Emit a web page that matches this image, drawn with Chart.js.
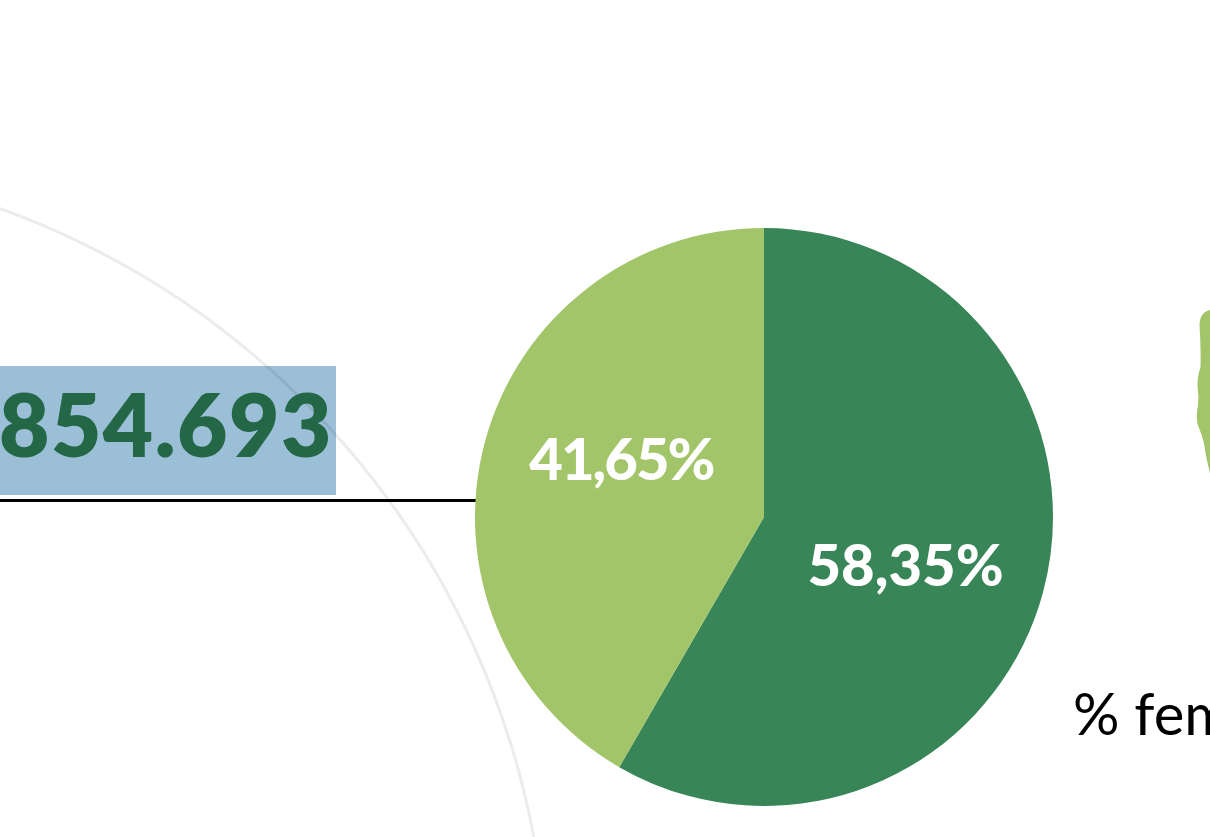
<!DOCTYPE html>
<html>
<head>
<meta charset="utf-8">
<title>Pie</title>
<script src="https://cdn.jsdelivr.net/npm/chart.js@4"></script>
<style>
    html, body { margin: 0; padding: 0; background: #fff; }
    #page { position: relative; width: 1210px; height: 837px; overflow: hidden; background: #fff; }
    #page > * { position: absolute; }
    #totalBox { left: 0; top: 366px; width: 336px; height: 129px; background: #9bbfd6; }
    #ring { left: -1111px; top: 158px; width: 1654px; height: 1654px; border: 3px solid #ececec; border-radius: 50%; mix-blend-mode: multiply; }
    #totalText { right: 877px; top: 369px; font: 800 87px Lato, sans-serif; letter-spacing: 1.5px; line-height: 110px; color: #236747; white-space: nowrap; }
    #rule { left: 0; top: 499px; width: 477px; height: 3px; background: #000; }
    #pieWrap { left: 475px; top: 228px; width: 578px; height: 578px; }
    #blob { left: 1190px; top: 300px; }
    #caption { left: 1073px; top: 678px; font: 400 58px Lato, sans-serif; line-height: 70px; color: #000; white-space: nowrap; }
</style>
</head>
<body>
<div id="page">
    <div id="totalBox"></div>
    <div id="ring"></div>
    <div id="totalText"></div>
    <div id="rule"></div>
    <div id="pieWrap"><canvas id="pieChart" width="578" height="578"></canvas></div>
    <svg id="blob" width="20" height="180" viewBox="1190 300 20 180">
        <path fill="#a2c569" d="M1210 310 Q1200 312 1199.5 325 Q1201 350 1200.5 367 Q1197 378 1197.5 387 Q1199 395 1198 405 Q1195 420 1199 428 Q1204 440 1205 450 Q1207 462 1210 473 Z"/>
    </svg>
    <div id="caption"></div>
</div>
<script>
const categories = ["Masculino", "Femenino"];
const sliceValues = [58.35, 41.65];
const sliceLabels = ["58,35%", "41,65%"];
const sliceColors = ["#388557", "#a2c569"];
const totalText = "854.693";
const captionText = "% fem";

document.getElementById("totalText").textContent = totalText;
document.getElementById("caption").textContent = captionText;

// nudges from the arc centre to where the labels sit in the picture
const labelNudge = [[2, 13], [-3, -18]];
const labelSpacing = ["0px", "-2px"];

const sliceLabelPlugin = {
    id: "sliceLabels",
    afterDatasetsDraw(chart) {
        const ctx = chart.ctx;
        const arcs = chart.getDatasetMeta(0).data;
        ctx.save();
        ctx.fillStyle = "#fff";
        ctx.font = "900 58px Lato, sans-serif";
        ctx.textAlign = "center";
        ctx.textBaseline = "middle";
        arcs.forEach(function(arc, i) {
            const pos = arc.tooltipPosition();
            ctx.letterSpacing = labelSpacing[i];
            ctx.fillText(sliceLabels[i], pos.x + labelNudge[i][0], pos.y + labelNudge[i][1]);
        });
        ctx.restore();
    }
};

new Chart(document.getElementById("pieChart"), {
    type: "pie",
    data: {
        labels: categories,
        datasets: [{
            data: sliceValues,
            backgroundColor: sliceColors,
            borderWidth: 0
        }]
    },
    options: {
        responsive: false,
        animation: false,
        layout: { padding: 0 },
        plugins: {
            legend: { display: false },
            tooltip: { enabled: false }
        }
    },
    plugins: [sliceLabelPlugin]
});
</script>
</body>
</html>
